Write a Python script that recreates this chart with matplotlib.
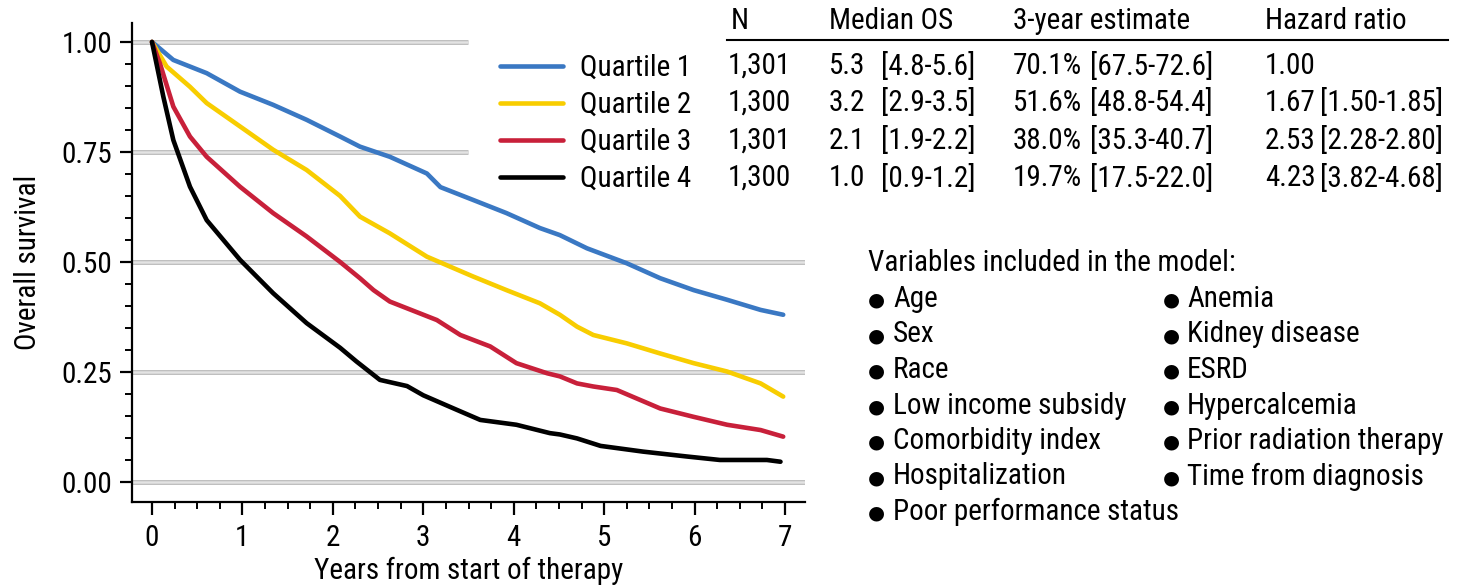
import matplotlib
matplotlib.use("Agg")
import matplotlib.pyplot as plt
from matplotlib.lines import Line2D

# survival estimates per quartile (years, proportion alive)
q1_t = [0, 0.236, 0.605, 0.973, 1.34, 1.71, 2.08, 2.30, 2.63, 3.04, 3.19, 3.55, 3.92, 4.29, 4.51, 4.70, 4.81, 5.25, 5.62, 5.99, 6.36, 6.73, 6.98]
q1_s = [1, 0.959, 0.929, 0.887, 0.857, 0.823, 0.785, 0.762, 0.739, 0.701, 0.670, 0.641, 0.611, 0.577, 0.561, 0.542, 0.531, 0.497, 0.463, 0.436, 0.414, 0.391, 0.380]

q2_t = [0, 0.162, 0.42, 0.605, 0.973, 1.34, 1.71, 2.08, 2.30, 2.63, 3.04, 3.55, 3.92, 4.29, 4.51, 4.70, 4.88, 5.25, 5.62, 5.99, 6.36, 6.73, 6.98]
q2_s = [1, 0.944, 0.898, 0.861, 0.808, 0.755, 0.709, 0.650, 0.603, 0.565, 0.512, 0.467, 0.436, 0.406, 0.380, 0.353, 0.334, 0.315, 0.292, 0.270, 0.251, 0.224, 0.194]

q3_t = [0, 0.088, 0.236, 0.42, 0.605, 0.973, 1.34, 1.71, 2.08, 2.30, 2.45, 2.63, 3.15, 3.41, 3.74, 4.03, 4.37, 4.51, 4.70, 4.88, 5.14, 5.62, 5.99, 6.36, 6.73, 6.98]
q3_s = [1, 0.951, 0.853, 0.785, 0.739, 0.671, 0.611, 0.558, 0.500, 0.463, 0.436, 0.410, 0.368, 0.334, 0.308, 0.270, 0.247, 0.240, 0.224, 0.217, 0.209, 0.167, 0.148, 0.130, 0.118, 0.103]

q4_t = [0, 0.125, 0.236, 0.42, 0.605, 0.973, 1.34, 1.71, 2.08, 2.26, 2.52, 2.82, 3.0, 3.37, 3.63, 4.03, 4.40, 4.51, 4.70, 4.96, 5.43, 5.91, 6.28, 6.80, 6.95]
q4_s = [1, 0.876, 0.777, 0.671, 0.595, 0.505, 0.429, 0.361, 0.305, 0.274, 0.232, 0.218, 0.197, 0.164, 0.141, 0.130, 0.111, 0.108, 0.099, 0.082, 0.069, 0.058, 0.050, 0.050, 0.046]

labels = ["Quartile 1", "Quartile 2", "Quartile 3", "Quartile 4"]
colors = ["#3a78c3", "#f8cd00", "#c8203a", "#000000"]

# summary table
n_pat = ["1,301", "1,300", "1,301", "1,300"]
median_os = ["5.3", "3.2", "2.1", "1.0"]
median_ci = ["[4.8-5.6]", "[2.9-3.5]", "[1.9-2.2]", "[0.9-1.2]"]
est_3y = ["70.1%", "51.6%", "38.0%", "19.7%"]
est_ci = ["[67.5-72.6]", "[48.8-54.4]", "[35.3-40.7]", "[17.5-22.0]"]
hr = ["1.00", "1.67", "2.53", "4.23"]
hr_ci = ["", "[1.50-1.85]", "[2.28-2.80]", "[3.82-4.68]"]

vars_left = ["Age", "Sex", "Race", "Low income subsidy", "Comorbidity index",
             "Hospitalization", "Poor performance status"]
vars_right = ["Anemia", "Kidney disease", "ESRD", "Hypercalcemia",
              "Prior radiation therapy", "Time from diagnosis"]

plt.rcParams['font.family'] = ['Roboto Condensed', 'DejaVu Sans']
FS = 21

W, H = 1460, 585
fig = plt.figure(figsize=(W / 100, H / 100), dpi=100)


def px(x, y):
    return x / W, 1 - y / H


ax = fig.add_axes([132 / W, 1 - 502 / H, (805 - 132) / W, (502 - 23) / H])
ax.set_xlim(-0.221, 7.221)
ax.set_ylim(-0.0455, 1.043)

# banded horizontal reference lines
for yv in [0, 0.25, 0.5, 0.75, 1.0]:
    xe = 3.49 if yv >= 0.75 else 7.221
    ax.hlines(yv, -0.221, xe, color="#b5b5b5", lw=3.4, zorder=1)
    ax.hlines(yv, -0.221, xe, color="#e3e3e3", lw=1.8, zorder=1)

for t, s, lab, c in zip([q1_t, q2_t, q3_t, q4_t], [q1_s, q2_s, q3_s, q4_s], labels, colors):
    ax.plot(t, s, color=c, lw=3.3, label=lab, zorder=3, solid_capstyle="round")

for sp in ["top", "right"]:
    ax.spines[sp].set_visible(False)
for sp in ["left", "bottom"]:
    ax.spines[sp].set_linewidth(1.6)

ax.set_xticks(range(8))
ax.set_xticks([i * 0.25 for i in range(29)], minor=True)
ax.set_yticks([0, 0.25, 0.5, 0.75, 1.0])
ax.set_yticklabels(["0.00", "0.25", "0.50", "0.75", "1.00"])
ax.set_yticks([i * 0.05 for i in range(21)], minor=True)
ax.tick_params(which="major", length=9, width=1.6, labelsize=FS)
ax.tick_params(axis="x", which="major", pad=7)
ax.tick_params(axis="y", which="major", pad=5)
ax.tick_params(which="minor", length=5, width=1.4)

ax.set_xlabel("Years from start of therapy", fontsize=FS, labelpad=3)
ax.set_ylabel("Overall survival", fontsize=FS, labelpad=14)

leg = ax.legend(loc="upper left", bbox_to_anchor=(px(500, 54)), bbox_transform=fig.transFigure,
                fontsize=FS, frameon=False, handlelength=2.16, handletextpad=0.58,
                labelspacing=0.31, borderaxespad=0, borderpad=0)

# table header
cols = [731, 829, 1013, 1265]
heads = ["N", "Median OS", "3-year estimate", "Hazard ratio"]
for x, h in zip(cols, heads):
    fig.text(*px(x, 21), h, fontsize=FS, va="center", ha="left")
fig.add_artist(Line2D([727 / W, 1448 / W], [1 - 40 / H, 1 - 40 / H], color="black", lw=1.5))

rows_y = [66, 103, 141, 178]
for i, y in enumerate(rows_y):
    fig.text(*px(728, y), n_pat[i], fontsize=FS, va="center")
    fig.text(*px(829, y), median_os[i], fontsize=FS, va="center")
    fig.text(*px(881, y), median_ci[i], fontsize=FS, va="center")
    fig.text(*px(1013, y), est_3y[i], fontsize=FS, va="center")
    fig.text(*px(1090, y), est_ci[i], fontsize=FS, va="center")
    fig.text(*px(1265, y), hr[i], fontsize=FS, va="center")
    fig.text(*px(1320, y), hr_ci[i], fontsize=FS, va="center")

# model covariates, two bulleted columns
fig.text(*px(868, 263), "Variables included in the model:", fontsize=FS, va="center")
for xb, xt, items in [(868, 893, vars_left), (1163, 1187, vars_right)]:
    for i, v in enumerate(items):
        y = 299 + i * 35.5
        fig.text(*px(xb, y + 1), "\u25cf", fontsize=14, va="center", family="DejaVu Sans")
        fig.text(*px(xt, y), v, fontsize=FS, va="center")

fig.savefig("out.png", dpi=100)
